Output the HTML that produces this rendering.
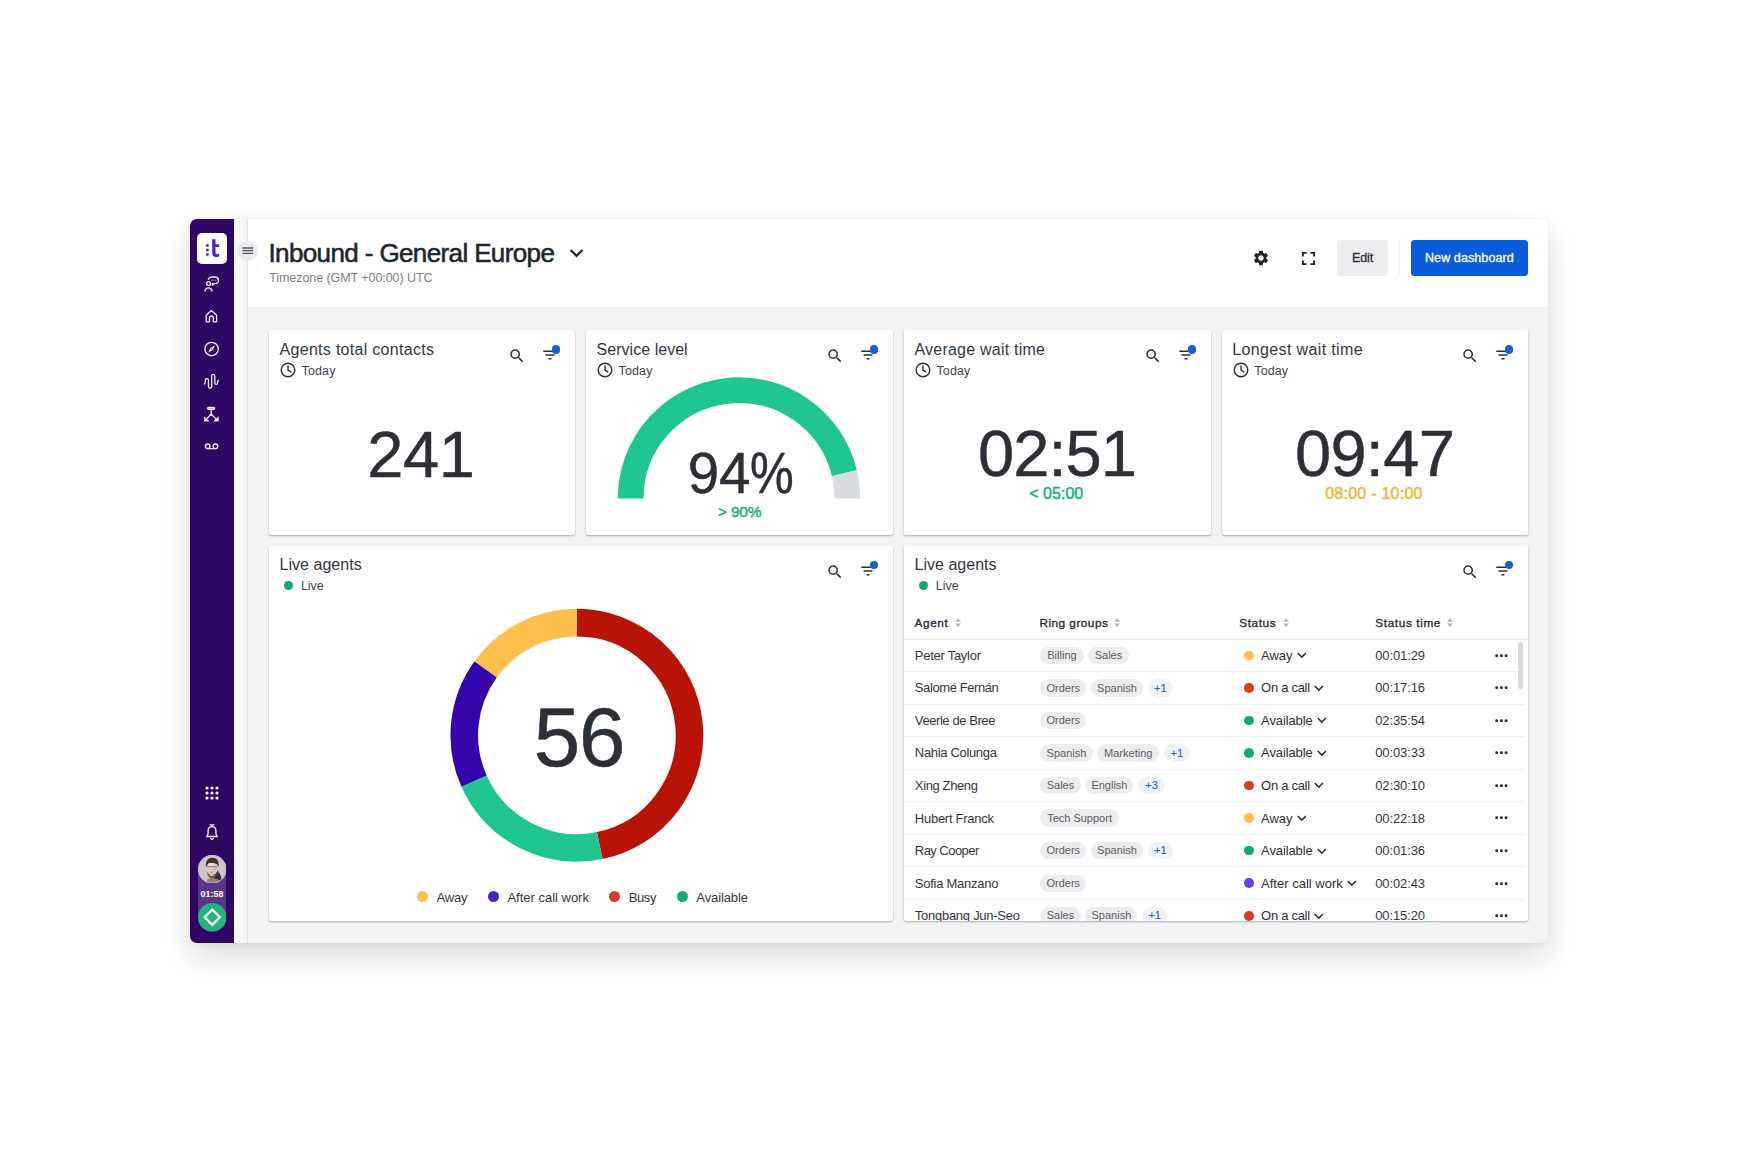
<!DOCTYPE html>
<html lang="en">
<head>
<meta charset="utf-8">
<title>Inbound - General Europe</title>
<style>
*{box-sizing:border-box;margin:0;padding:0}
html,body{width:1740px;height:1160px;background:#fff;overflow:hidden}
body{font-family:"Liberation Sans",sans-serif;color:#33383d;position:relative}
.abs{position:absolute}
#app{position:absolute;left:190px;top:219px;width:1358.4px;height:723.8px;border-radius:7px;background:#f2f3f4;box-shadow:0 14px 30px rgba(20,20,30,.15),0 1px 6px rgba(20,20,30,.05)}
#side{position:absolute;left:0;top:0;width:44px;height:723.8px;background:#2e0664;border-radius:7px 0 0 7px}
#strip{position:absolute;left:44px;top:0;width:14px;height:723.8px;background:linear-gradient(90deg,#fbfbfc,#f4f6f5);border-right:1px solid #e3e5e6}
#head{position:absolute;left:58px;top:0;width:1300.4px;height:88.2px;background:#fff;border-radius:0 7px 0 0}
#main{position:absolute;left:58px;top:88.2px;width:1300.4px;height:635.6px;background:#f2f3f4;border-radius:0 0 7px 0}
.t{position:absolute;white-space:nowrap;line-height:1}
.card{position:absolute;background:#fff;border-radius:2px;box-shadow:0 1px 2px rgba(0,0,0,.28),0 0 1px rgba(0,0,0,.12)}
</style>
</head>
<body>
<div id="app">
  <div id="side"></div>
  <div id="strip"></div>
  <div id="head"></div>
  <div id="main"></div>
</div>

<!-- sidebar -->
<div class="abs" style="left:197px;top:233px;width:30px;height:31px;background:#fff;border-radius:5px"></div>
<svg class="abs" style="left:197px;top:233px" width="30" height="31" viewBox="0 0 30 31">
  <g fill="#4b1fc2">
    <rect x="9.1" y="11.2" width="2.6" height="2.6" rx=".6"/>
    <rect x="9.1" y="15.7" width="2.6" height="2.6" rx=".6"/>
    <rect x="9.1" y="20.2" width="2.6" height="2.6" rx=".6"/>
    <path d="M15.2 6.2h3.3v5h3.6v2.7h-3.6v5.6c0 1.2.6 1.7 1.7 1.7.7 0 1.3-.1 1.9-.4v2.6c-.8.4-1.700.6-2.800.6-2.700 0-4.100-1.400-4.100-4.100z"/>
  </g>
</svg>
<!-- engage icon -->
<svg class="abs" style="left:203px;top:275px" width="18" height="18" viewBox="0 0 18 18" fill="none" stroke="#f3ecff" stroke-width="1.350" stroke-linecap="round" stroke-linejoin="round">
  <circle cx="5.600" cy="8.500" r="1.900"/>
  <path d="M2 16c.3-2 1.600-3.200 3.500-3.200s3.200 1.200 3.500 3.200"/>
  <path d="M5.300 4.200C5.900 2.800 7.200 2 8.700 2h3.100c2.100 0 3.700 1.400 3.700 3.300s-1.600 3.300-3.700 3.300h-.600l-1.900 1.700v-2"/>
  <path d="M9.200 5.200h.01M11 5.200h.01M12.800 5.200h.01" stroke-width="1"/>
</svg>
<!-- home -->
<svg class="abs" style="left:203px;top:307px" width="18" height="18" viewBox="0 0 18 18" fill="none" stroke="#f3ecff" stroke-width="1.350" stroke-linejoin="round" stroke-linecap="round">
  <path d="M3.200 8.300L8.400 3.600l5.200 4.700v6.500h-3.300v-3.900c0-1.100-.800-1.900-1.900-1.900s-1.900.800-1.900 1.900v3.900H3.200z"/>
</svg>
<!-- compass -->
<svg class="abs" style="left:203px;top:339.500px" width="18" height="18" viewBox="0 0 18 18" fill="none" stroke="#f3ecff" stroke-width="1.350">
  <circle cx="8.600" cy="9" r="6.700"/>
  <path d="M11.900 5.300L9.800 10.100 5.300 12.700 7.400 7.900z" fill="#f3ecff" stroke="none"/>
  <circle cx="8.600" cy="9" r=".6" fill="#2e0664" stroke="none"/>
</svg>
<!-- wave -->
<svg class="abs" style="left:203px;top:372px" width="18" height="18" viewBox="0 0 18 18" fill="none" stroke="#f3ecff" stroke-width="1.350" stroke-linecap="round" stroke-linejoin="round">
  <path d="M1.400 12c.700-.400.900-1.200.900-2.500V8.200a1.600 1.600 0 0 1 3.200 0v6.300a1.600 1.600 0 0 0 3.200 0V3.900a1.550 1.550 0 0 1 3.100 0v7.100a1.350 1.350 0 0 0 2.700 0c0-1.100.200-1.900.800-2.400"/>
</svg>
<!-- routing -->
<svg class="abs" style="left:203px;top:404.500px" width="18" height="18" viewBox="0 0 18 18" fill="none" stroke="#f3ecff" stroke-width="1.350" stroke-linecap="round" stroke-linejoin="round">
  <rect x="4.700" y="2.500" width="6.900" height="1.700" rx=".85"/>
  <path d="M8.200 4.800v4.200M8.200 9L3 14.600M8.200 9l5.400 5.600"/>
  <path d="M1.500 12.300v3.800h4zM15.300 12.300v3.800h-4z" fill="#f3ecff" stroke-width=".7"/>
</svg>
<!-- voicemail -->
<svg class="abs" style="left:203px;top:437.800px" width="18" height="18" viewBox="0 0 18 18" fill="none" stroke="#f3ecff" stroke-width="1.350" stroke-linecap="round">
  <circle cx="4.700" cy="8.300" r="2.300"/>
  <circle cx="12.500" cy="8.300" r="2.300"/>
  <path d="M4.700 10.600h7.800"/>
</svg>
<!-- grid -->
<svg class="abs" style="left:203px;top:784px" width="18" height="18" viewBox="0 0 18 18" fill="#fff">
  <circle cx="4" cy="4" r="1.600"/><circle cx="9" cy="4" r="1.600"/><circle cx="14" cy="4" r="1.600"/>
  <circle cx="4" cy="9" r="1.600"/><circle cx="9" cy="9" r="1.600"/><circle cx="14" cy="9" r="1.600"/>
  <circle cx="4" cy="14" r="1.600"/><circle cx="9" cy="14" r="1.600"/><circle cx="14" cy="14" r="1.600"/>
</svg>
<!-- bell -->
<svg class="abs" style="left:203px;top:822px" width="18" height="20" viewBox="0 0 18 20" fill="none" stroke="#f3ecff" stroke-width="1.350" stroke-linecap="round" stroke-linejoin="round">
  <path d="M7 2.800h4M9 2.800v1.700"/>
  <path d="M3.700 14.500c.900-.900 1.400-2 1.400-3.600V8.700c0-2.400 1.600-4.100 3.900-4.100s3.900 1.700 3.900 4.100v2.200c0 1.600.500 2.700 1.400 3.600z"/>
  <path d="M7.600 16.300c.300.600.800.900 1.400.9s1.100-.3 1.400-.9"/>
</svg>
<!-- avatar pill -->
<div class="abs" style="left:197.700px;top:854.800px;width:28.500px;height:76.800px;border-radius:14.300px;background:#5b348c"></div>
<svg class="abs" style="left:197.700px;top:854.800px" width="28.500" height="28.500" viewBox="0 0 28.500 28.500">
  <defs><clipPath id="av"><circle cx="14.250" cy="14.250" r="14.250"/></clipPath>
  <filter id="avb" x="-10%" y="-10%" width="120%" height="120%"><feGaussianBlur stdDeviation=".45"/></filter></defs>
  <g clip-path="url(#av)">
    <rect width="28.500" height="28.500" fill="#cbc7c8"/>
    <g filter="url(#avb)">
      <path d="M17.500 14.500c3 1.500 5.500 5 6 10.500l-8 1.500z" fill="#342d31"/>
      <path d="M9.500 24.300c2-1.200 7.500-1.200 10.500 0l1 5h-12.500z" fill="#8c8468"/>
      <ellipse cx="14" cy="14.600" rx="5.300" ry="7.800" fill="#dccbc3"/>
      <path d="M8.900 16.500c.4 4.300 2.400 7 5.100 7s4.700-2.700 5.200-7c-1.300 2.300-2.900 3.200-5.200 3.200s-3.900-.9-5.100-3.200z" fill="#6e5b55"/>
      <ellipse cx="13.600" cy="20.300" rx="1.900" ry=".8" fill="#e9dfdb"/>
      <path d="M7.900 12.200C7.300 6 10 2.700 14.300 2.700s7 2.900 6.300 9.500c-.9-3.100-2.700-4.300-6.300-4.300s-5.200 1.200-6.400 4.300z" fill="#3a322f"/>
      <ellipse cx="13.300" cy="9.300" rx="3.600" ry="1.400" fill="#e6e2dc"/>
      <path d="M8.700 11.800h10.800" stroke="#5c4f4f" stroke-width=".7"/>
      <ellipse cx="16.700" cy="14.200" rx="1.500" ry="1" fill="#e7a3a8"/>
      <ellipse cx="13.800" cy="17.200" rx=".6" ry=".6" fill="#3a2024"/>
    </g>
  </g>
  <circle cx="14.250" cy="14.250" r="13.850" fill="none" stroke="#c3aee0" stroke-width=".8"/>
</svg>
<div class="t" style="left:197.700px;top:890.400px;width:28.500px;text-align:center;font-size:8.800px;font-weight:bold;color:#fff;letter-spacing:.1px">01:58</div>
<svg class="abs" style="left:197.700px;top:903.200px" width="28.500" height="28.500" viewBox="0 0 28.500 28.500">
  <circle cx="14.250" cy="14.250" r="14.250" fill="#21b57e"/>
  <path d="M14.250 6.600l7.650 7.650-7.650 7.650L6.600 14.250z" fill="none" stroke="#fff" stroke-width="2.200" stroke-linejoin="miter"/>
</svg>
<!-- hamburger -->
<div class="abs" style="left:237px;top:240.500px;width:20.500px;height:20.500px;border-radius:50%;background:#e9ebec"></div>
<svg class="abs" style="left:241.500px;top:246px" width="12" height="10" viewBox="0 0 12 10" stroke="#4a4f55" stroke-width="1.300"><path d="M.5 2h10.600M.5 4.700h10.600M.5 7.400h10.600"/></svg>

<!-- header -->
<div class="t" id="title" style="left:268.5px;top:239.8px;font-size:26px;color:#20252b;letter-spacing:-.62px;-webkit-text-stroke:.55px #20252b">Inbound - General Europe</div>
<svg class="abs" style="left:568px;top:246px" width="17" height="14" viewBox="0 0 17 14" fill="none" stroke="#20252b" stroke-width="2.200" stroke-linecap="butt" stroke-linejoin="miter"><path d="M2.600 4l5.900 5.900L14.400 4"/></svg>
<div class="t" id="tz" style="left:269.2px;top:272px;font-size:12.5px;color:#7b8085;letter-spacing:-.07px">Timezone (GMT +00:00) UTC</div>
<!-- gear -->
<svg class="abs" style="left:1252.300px;top:249px" width="18" height="18" viewBox="0 0 24 24" fill="#20252b"><path d="M19.140 12.940c.04-.3.060-.61.060-.94 0-.32-.02-.64-.07-.94l2.030-1.580c.18-.14.230-.41.120-.61l-1.920-3.320c-.12-.22-.37-.29-.59-.22l-2.390.96c-.5-.38-1.030-.7-1.620-.94l-.36-2.540c-.04-.24-.24-.41-.48-.41h-3.840c-.24 0-.43.170-.47.410l-.36 2.540c-.59.240-1.130.57-1.620.94l-2.390-.96c-.22-.08-.47 0-.59.220L2.740 8.870c-.12.210-.08.470.12.610l2.030 1.580c-.05.300-.09.630-.09.940s.02.640.07.940l-2.030 1.580c-.18.140-.23.410-.12.610l1.920 3.320c.12.220.37.290.59.220l2.390-.96c.5.380 1.030.7 1.620.94l.36 2.540c.05.240.24.410.48.410h3.840c.24 0 .44-.17.470-.41l.36-2.540c.59-.24 1.130-.56 1.620-.94l2.390.96c.22.080.47 0 .59-.22l1.920-3.320c.12-.22.070-.47-.12-.61l-2.010-1.580zM12 15.600c-1.980 0-3.600-1.620-3.600-3.600s1.620-3.600 3.600-3.600 3.600 1.620 3.600 3.600-1.620 3.600-3.600 3.600z"/></svg>
<!-- fullscreen -->
<svg class="abs" style="left:1301px;top:251px" width="15" height="15" viewBox="0 0 15 15" fill="none" stroke="#20252b" stroke-width="1.900"><path d="M1.900 5.600V1.900h3.700M9.400 1.900h3.700v3.700M13.100 9.400v3.700H9.400M5.600 13.100H1.900V9.400"/></svg>
<!-- edit -->
<div class="abs" style="left:1337.200px;top:240.200px;width:50.600px;height:35.600px;border-radius:3.500px;background:#ebedee"></div>
<div class="t" id="edit" style="left:1337.2px;top:251.5px;width:50.6px;text-align:center;font-size:12.5px;color:#2b3036;letter-spacing:-.1px;-webkit-text-stroke:.3px #2b3036">Edit</div>
<div class="abs" style="left:1399px;top:240px;width:1px;height:36px;background:#f1f2f3"></div>
<div class="abs" style="left:1410.600px;top:240.200px;width:117.600px;height:35.600px;border-radius:3.500px;background:#0b5cdb"></div>
<div class="t" id="newd" style="left:1410.6px;top:251.5px;width:117.6px;text-align:center;font-size:12.5px;color:#fff;letter-spacing:.1px;-webkit-text-stroke:.3px #fff">New dashboard</div>
<div class="card" style="left:268.9px;top:330.2px;width:306.4px;height:204.5px"></div>
<div class="t" style="left:279.6px;top:341.76px;font-size:16px;color:#33383d;letter-spacing:0.29px;">Agents total contacts</div>
<svg class="abs" style="left:279.4px;top:361.1px" width="18" height="18" viewBox="0 0 18 18" fill="none" stroke="#2b3036" stroke-width="1.4" stroke-linecap="round" stroke-linejoin="round"><circle cx="9" cy="9" r="6.8"/><path d="M9 5v4.200l2.800 1.700"/></svg>
<div class="t" style="left:301.57px;top:364.92px;font-size:12.5px;color:#3f454b;letter-spacing:0.12px;">Today</div>
<svg class="abs" style="left:508.1px;top:346.9px" width="18" height="18" viewBox="0 0 24 24" fill="#2b3036"><path d="M15.5 14h-.79l-.28-.27A6.47 6.47 0 0 0 16 9.5 6.5 6.5 0 1 0 9.5 16c1.61 0 3.09-.59 4.23-1.57l.27.28v.79l5 4.99L20.49 19l-4.99-5zm-6 0C7.01 14 5 11.99 5 9.500S7.010 5 9.500 5 14 7.010 14 9.500 11.990 14 9.500 14z"/></svg>
<svg class="abs" style="left:541.1px;top:346.1px" width="18" height="18" viewBox="0 0 24 24" fill="#2b3036"><path d="M10 18h4v-2h-4v2zM3 6v2h18V6H3zm3 7h12v-2H6v2z"/></svg>
<div class="abs" style="left:552.1px;top:345.4px;width:8.2px;height:8.2px;border-radius:50%;background:#1460d8"></div>
<div class="card" style="left:585.9px;top:330.2px;width:307.3px;height:204.5px"></div>
<div class="t" style="left:596.6px;top:341.76px;font-size:16px;color:#33383d;letter-spacing:0.03px;">Service level</div>
<svg class="abs" style="left:596.4px;top:361.1px" width="18" height="18" viewBox="0 0 18 18" fill="none" stroke="#2b3036" stroke-width="1.4" stroke-linecap="round" stroke-linejoin="round"><circle cx="9" cy="9" r="6.8"/><path d="M9 5v4.200l2.800 1.700"/></svg>
<div class="t" style="left:618.57px;top:364.92px;font-size:12.5px;color:#3f454b;letter-spacing:0.12px;">Today</div>
<svg class="abs" style="left:826px;top:346.9px" width="18" height="18" viewBox="0 0 24 24" fill="#2b3036"><path d="M15.5 14h-.79l-.28-.27A6.47 6.47 0 0 0 16 9.5 6.5 6.5 0 1 0 9.5 16c1.61 0 3.09-.59 4.23-1.57l.27.28v.79l5 4.99L20.49 19l-4.99-5zm-6 0C7.01 14 5 11.99 5 9.500S7.010 5 9.500 5 14 7.010 14 9.500 11.990 14 9.500 14z"/></svg>
<svg class="abs" style="left:859px;top:346.1px" width="18" height="18" viewBox="0 0 24 24" fill="#2b3036"><path d="M10 18h4v-2h-4v2zM3 6v2h18V6H3zm3 7h12v-2H6v2z"/></svg>
<div class="abs" style="left:870px;top:345.4px;width:8.2px;height:8.2px;border-radius:50%;background:#1460d8"></div>
<div class="card" style="left:903.8px;top:330.2px;width:307px;height:204.5px"></div>
<div class="t" style="left:914.5px;top:341.76px;font-size:16px;color:#33383d;letter-spacing:0.22px;">Average wait time</div>
<svg class="abs" style="left:914.3px;top:361.1px" width="18" height="18" viewBox="0 0 18 18" fill="none" stroke="#2b3036" stroke-width="1.4" stroke-linecap="round" stroke-linejoin="round"><circle cx="9" cy="9" r="6.8"/><path d="M9 5v4.200l2.800 1.700"/></svg>
<div class="t" style="left:936.47px;top:364.92px;font-size:12.5px;color:#3f454b;letter-spacing:0.12px;">Today</div>
<svg class="abs" style="left:1143.6px;top:346.9px" width="18" height="18" viewBox="0 0 24 24" fill="#2b3036"><path d="M15.5 14h-.79l-.28-.27A6.47 6.47 0 0 0 16 9.5 6.5 6.5 0 1 0 9.5 16c1.61 0 3.09-.59 4.23-1.57l.27.28v.79l5 4.99L20.49 19l-4.99-5zm-6 0C7.01 14 5 11.99 5 9.500S7.010 5 9.500 5 14 7.010 14 9.500 11.990 14 9.500 14z"/></svg>
<svg class="abs" style="left:1176.6px;top:346.1px" width="18" height="18" viewBox="0 0 24 24" fill="#2b3036"><path d="M10 18h4v-2h-4v2zM3 6v2h18V6H3zm3 7h12v-2H6v2z"/></svg>
<div class="abs" style="left:1187.6px;top:345.4px;width:8.2px;height:8.2px;border-radius:50%;background:#1460d8"></div>
<div class="card" style="left:1221.6px;top:330.2px;width:306.6px;height:204.5px"></div>
<div class="t" style="left:1232.3px;top:341.76px;font-size:16px;color:#33383d;letter-spacing:0.36px;">Longest wait time</div>
<svg class="abs" style="left:1232.1px;top:361.1px" width="18" height="18" viewBox="0 0 18 18" fill="none" stroke="#2b3036" stroke-width="1.4" stroke-linecap="round" stroke-linejoin="round"><circle cx="9" cy="9" r="6.8"/><path d="M9 5v4.200l2.800 1.700"/></svg>
<div class="t" style="left:1254.27px;top:364.92px;font-size:12.5px;color:#3f454b;letter-spacing:0.12px;">Today</div>
<svg class="abs" style="left:1461px;top:346.9px" width="18" height="18" viewBox="0 0 24 24" fill="#2b3036"><path d="M15.5 14h-.79l-.28-.27A6.47 6.47 0 0 0 16 9.5 6.5 6.5 0 1 0 9.5 16c1.61 0 3.09-.59 4.23-1.57l.27.28v.79l5 4.99L20.49 19l-4.99-5zm-6 0C7.01 14 5 11.99 5 9.500S7.010 5 9.500 5 14 7.010 14 9.500 11.990 14 9.500 14z"/></svg>
<svg class="abs" style="left:1494px;top:346.1px" width="18" height="18" viewBox="0 0 24 24" fill="#2b3036"><path d="M10 18h4v-2h-4v2zM3 6v2h18V6H3zm3 7h12v-2H6v2z"/></svg>
<div class="abs" style="left:1505px;top:345.4px;width:8.2px;height:8.2px;border-radius:50%;background:#1460d8"></div>
<div class="t" style="left:367.35px;top:421.58px;font-size:65px;color:#2b3036;letter-spacing:-0.4px;-webkit-text-stroke:.45px #2b3036;">241</div>
<div class="t" style="left:977.95px;top:421.18px;font-size:65px;color:#2b3036;letter-spacing:-0.9px;-webkit-text-stroke:.45px #2b3036;">02:51</div>
<div class="t" style="left:1294.95px;top:421.18px;font-size:65px;color:#2b3036;letter-spacing:-0.7px;-webkit-text-stroke:.45px #2b3036;">09:47</div>
<div class="t" style="left:1029.3px;top:486.06px;font-size:16px;color:#16b081;-webkit-text-stroke:0.48px #16b081;letter-spacing:0.01px;">&lt; 05:00</div>
<div class="t" style="left:1325.2px;top:486.06px;font-size:16px;color:#f2b53a;-webkit-text-stroke:0.48px #f2b53a;letter-spacing:0.25px;">08:00 - 10:00</div>
<svg class="abs" style="left:600px;top:365px" width="280" height="134" viewBox="600 365 280 134" fill="none"><path d="M844.36 473.02A108.35 108.35 0 0 1 847.4 498.5" stroke="#d9dcde" stroke-width="25.7"/><path d="M630.7 498.5A108.35 108.35 0 0 1 844.36 473.02" stroke="#20c592" stroke-width="25.7"/>
</svg>
<div class="t" style="left:687.77px;top:445.97px;font-size:56.5px;color:#2b3036;letter-spacing:-0.3px;-webkit-text-stroke:.45px #2b3036;">94<span style="display:inline-block;transform:scaleX(.87);transform-origin:0 50%">%</span></div>
<div class="t" style="left:718.02px;top:503.68px;font-size:15.5px;color:#16b081;-webkit-text-stroke:0.46px #16b081;letter-spacing:-0.21px;">&gt; 90%</div>
<div class="card" style="left:268.9px;top:545.9px;width:624.3px;height:375.4px"></div>
<div class="t" style="left:279.6px;top:557.46px;font-size:16px;color:#33383d;letter-spacing:0.02px;">Live agents</div>
<div class="abs" style="left:283.6px;top:581.3px;width:9.2px;height:9.2px;border-radius:50%;background:#12a873"></div>
<div class="t" style="left:300.88px;top:580.02px;font-size:12.5px;color:#3f454b;">Live</div>
<svg class="abs" style="left:826px;top:562.6px" width="18" height="18" viewBox="0 0 24 24" fill="#2b3036"><path d="M15.5 14h-.79l-.28-.27A6.47 6.47 0 0 0 16 9.5 6.5 6.5 0 1 0 9.5 16c1.61 0 3.09-.59 4.23-1.57l.27.28v.79l5 4.99L20.49 19l-4.99-5zm-6 0C7.01 14 5 11.99 5 9.500S7.010 5 9.500 5 14 7.010 14 9.500 11.990 14 9.500 14z"/></svg>
<svg class="abs" style="left:859px;top:561.8px" width="18" height="18" viewBox="0 0 24 24" fill="#2b3036"><path d="M10 18h4v-2h-4v2zM3 6v2h18V6H3zm3 7h12v-2H6v2z"/></svg>
<div class="abs" style="left:870px;top:561.1px;width:8.2px;height:8.2px;border-radius:50%;background:#1460d8"></div>
<svg class="abs" style="left:430px;top:590px" width="300" height="290" viewBox="430 590 300 290" fill="none">
<path d="M576.9 622.65A112.6 112.6 0 0 1 599.73 845.51" stroke="#b91305" stroke-width="27.6"/>
<path d="M599.73 845.51A112.6 112.6 0 0 1 474.03 781.05" stroke="#20c592" stroke-width="27.6"/>
<path d="M474.03 781.05A112.6 112.6 0 0 1 485.69 669.22" stroke="#3404ab" stroke-width="27.6"/>
<path d="M485.69 669.22A112.6 112.6 0 0 1 576.9 622.65" stroke="#fdc04c" stroke-width="27.6"/>
</svg>
<div class="t" style="left:533.83px;top:696.32px;font-size:83.5px;color:#2b3036;letter-spacing:-1.27px;-webkit-text-stroke:.55px #2b3036;">56</div>
<div class="abs" style="left:417px;top:891.1px;width:11px;height:11px;border-radius:50%;background:#fdc04c"></div>
<div class="t" style="left:436.45px;top:890.6px;font-size:13px;color:#33383d;letter-spacing:-0.19px;">Away</div>
<div class="abs" style="left:487.8px;top:891.1px;width:11px;height:11px;border-radius:50%;background:#4a21c8"></div>
<div class="t" style="left:507.45px;top:890.6px;font-size:13px;color:#33383d;letter-spacing:-0.01px;">After call work</div>
<div class="abs" style="left:609px;top:891.1px;width:11px;height:11px;border-radius:50%;background:#d63c2c"></div>
<div class="t" style="left:628.65px;top:890.6px;font-size:13px;color:#33383d;letter-spacing:-0.35px;">Busy</div>
<div class="abs" style="left:676.9px;top:891.1px;width:11px;height:11px;border-radius:50%;background:#1ba672"></div>
<div class="t" style="left:696.35px;top:890.6px;font-size:13px;color:#33383d;letter-spacing:-0.11px;">Available</div>
<div class="card" style="left:903.8px;top:545.9px;width:624.4px;height:375.4px"></div>
<div class="t" style="left:914.5px;top:557.46px;font-size:16px;color:#33383d;letter-spacing:0.02px;">Live agents</div>
<div class="abs" style="left:918.5px;top:581.3px;width:9.2px;height:9.2px;border-radius:50%;background:#12a873"></div>
<div class="t" style="left:935.77px;top:580.02px;font-size:12.5px;color:#3f454b;">Live</div>
<svg class="abs" style="left:1461px;top:562.6px" width="18" height="18" viewBox="0 0 24 24" fill="#2b3036"><path d="M15.5 14h-.79l-.28-.27A6.47 6.47 0 0 0 16 9.5 6.5 6.5 0 1 0 9.5 16c1.61 0 3.09-.59 4.23-1.57l.27.28v.79l5 4.99L20.49 19l-4.99-5zm-6 0C7.01 14 5 11.99 5 9.500S7.010 5 9.500 5 14 7.010 14 9.500 11.990 14 9.500 14z"/></svg>
<svg class="abs" style="left:1494px;top:561.8px" width="18" height="18" viewBox="0 0 24 24" fill="#2b3036"><path d="M10 18h4v-2h-4v2zM3 6v2h18V6H3zm3 7h12v-2H6v2z"/></svg>
<div class="abs" style="left:1505px;top:561.1px;width:8.2px;height:8.2px;border-radius:50%;background:#1460d8"></div>
<div class="abs" style="left:903.8px;top:600px;width:624px;height:321.3px;overflow:hidden;border-radius:0 0 3px 3px" id="tbl">
<div class="t" style="left:10.81px;top:17.81px;font-size:11.8px;color:#2b3036;-webkit-text-stroke:0.35px #2b3036;letter-spacing:0.59px;">Agent</div>
<svg class="abs" style="left:51.5px;top:18.3px" width="6" height="9.2" viewBox="0 0 6 9.2" fill="#b7bbbf"><path d="M3 0l3 3.700H0zM3 9.200L0 5.500h6z"/></svg>
<div class="t" style="left:135.61px;top:17.81px;font-size:11.8px;color:#2b3036;-webkit-text-stroke:0.35px #2b3036;letter-spacing:0.48px;">Ring groups</div>
<svg class="abs" style="left:209.9px;top:18.3px" width="6" height="9.2" viewBox="0 0 6 9.2" fill="#b7bbbf"><path d="M3 0l3 3.700H0zM3 9.200L0 5.500h6z"/></svg>
<div class="t" style="left:335.51px;top:17.81px;font-size:11.8px;color:#2b3036;-webkit-text-stroke:0.35px #2b3036;letter-spacing:0.57px;">Status</div>
<svg class="abs" style="left:378.8px;top:18.3px" width="6" height="9.2" viewBox="0 0 6 9.2" fill="#b7bbbf"><path d="M3 0l3 3.700H0zM3 9.200L0 5.500h6z"/></svg>
<div class="t" style="left:471.51px;top:17.81px;font-size:11.8px;color:#2b3036;-webkit-text-stroke:0.35px #2b3036;letter-spacing:0.61px;">Status time</div>
<svg class="abs" style="left:542.9px;top:18.3px" width="6" height="9.2" viewBox="0 0 6 9.2" fill="#b7bbbf"><path d="M3 0l3 3.700H0zM3 9.200L0 5.500h6z"/></svg>
<div class="abs" style="left:0;top:38.3px;width:624px;height:1.6px;background:#ebedee"></div>
<div class="t" style="left:11.05px;top:48.8px;font-size:13px;color:#33383d;letter-spacing:-0.27px;">Peter Taylor</div>
<div class="abs" style="left:136.5px;top:46.65px;width:43.3px;height:17.5px;border-radius:9px;background:#ebedee"></div>
<div class="t" style="left:136.5px;top:49.99px;font-size:11px;color:#585d62;width:43.3px;text-align:center;">Billing</div>
<div class="abs" style="left:184.5px;top:46.65px;width:40.4px;height:17.5px;border-radius:9px;background:#ebedee"></div>
<div class="t" style="left:184.5px;top:49.99px;font-size:11px;color:#585d62;width:40.4px;text-align:center;">Sales</div>
<div class="abs" style="left:340.2px;top:50.6px;width:9.6px;height:9.6px;border-radius:50%;background:#fdc04c"></div>
<div class="t" style="left:357.25px;top:48.8px;font-size:13px;color:#2b3036;letter-spacing:-0.07px;">Away</div>
<svg class="abs" style="left:393.1px;top:52.2px" width="9.600" height="7" viewBox="0 0 9.6 7" fill="none" stroke="#2b3036" stroke-width="1.500"><path d="M.7 1l4.100 4.100L8.900 1"/></svg>
<div class="t" style="left:471.45px;top:48.8px;font-size:13px;color:#33383d;letter-spacing:-0.11px;">00:01:29</div>
<svg class="abs" style="left:591px;top:53.7px" width="13" height="3.400" viewBox="0 0 13 3.4" fill="#2b3036"><circle cx="1.700" cy="1.700" r="1.500"/><circle cx="6.400" cy="1.700" r="1.500"/><circle cx="11.100" cy="1.700" r="1.500"/></svg>
<div class="abs" style="left:0;top:71.15px;width:621px;height:1px;background:#eff1f2"></div>
<div class="t" style="left:11.05px;top:81.35px;font-size:13px;color:#33383d;letter-spacing:-0.41px;">Salomé Fernán</div>
<div class="abs" style="left:136.5px;top:79.2px;width:46px;height:17.5px;border-radius:9px;background:#ebedee"></div>
<div class="t" style="left:136.5px;top:82.54px;font-size:11px;color:#585d62;width:46px;text-align:center;">Orders</div>
<div class="abs" style="left:187.2px;top:79.2px;width:52px;height:17.5px;border-radius:9px;background:#ebedee"></div>
<div class="t" style="left:187.2px;top:82.54px;font-size:11px;color:#585d62;width:52px;text-align:center;">Spanish</div>
<div class="abs" style="left:243.9px;top:79.2px;width:25.2px;height:17.5px;border-radius:9px;background:#f0f2f4"></div>
<div class="t" style="left:243.9px;top:82.54px;font-size:11px;color:#2a62d6;width:25.2px;text-align:center;-webkit-text-stroke:.15px #2a62d6;">+1</div>
<div class="abs" style="left:340.2px;top:83.15px;width:9.6px;height:9.6px;border-radius:50%;background:#d63c2c"></div>
<div class="t" style="left:357.25px;top:81.35px;font-size:13px;color:#2b3036;letter-spacing:-0.28px;">On a call</div>
<svg class="abs" style="left:410.6px;top:84.75px" width="9.600" height="7" viewBox="0 0 9.6 7" fill="none" stroke="#2b3036" stroke-width="1.500"><path d="M.7 1l4.100 4.100L8.900 1"/></svg>
<div class="t" style="left:471.45px;top:81.35px;font-size:13px;color:#33383d;letter-spacing:-0.11px;">00:17:16</div>
<svg class="abs" style="left:591px;top:86.25px" width="13" height="3.400" viewBox="0 0 13 3.4" fill="#2b3036"><circle cx="1.700" cy="1.700" r="1.500"/><circle cx="6.400" cy="1.700" r="1.500"/><circle cx="11.100" cy="1.700" r="1.500"/></svg>
<div class="abs" style="left:0;top:103.7px;width:621px;height:1px;background:#eff1f2"></div>
<div class="t" style="left:11.05px;top:113.9px;font-size:13px;color:#33383d;letter-spacing:-0.42px;">Veerle de Bree</div>
<div class="abs" style="left:136.5px;top:111.75px;width:46px;height:17.5px;border-radius:9px;background:#ebedee"></div>
<div class="t" style="left:136.5px;top:115.09px;font-size:11px;color:#585d62;width:46px;text-align:center;">Orders</div>
<div class="abs" style="left:340.2px;top:115.7px;width:9.6px;height:9.6px;border-radius:50%;background:#12a873"></div>
<div class="t" style="left:357.25px;top:113.9px;font-size:13px;color:#2b3036;letter-spacing:-0.1px;">Available</div>
<svg class="abs" style="left:413.4px;top:117.3px" width="9.600" height="7" viewBox="0 0 9.6 7" fill="none" stroke="#2b3036" stroke-width="1.500"><path d="M.7 1l4.100 4.100L8.900 1"/></svg>
<div class="t" style="left:471.45px;top:113.9px;font-size:13px;color:#33383d;letter-spacing:-0.11px;">02:35:54</div>
<svg class="abs" style="left:591px;top:118.8px" width="13" height="3.400" viewBox="0 0 13 3.4" fill="#2b3036"><circle cx="1.700" cy="1.700" r="1.500"/><circle cx="6.400" cy="1.700" r="1.500"/><circle cx="11.100" cy="1.700" r="1.500"/></svg>
<div class="abs" style="left:0;top:136.25px;width:621px;height:1px;background:#eff1f2"></div>
<div class="t" style="left:11.05px;top:146.45px;font-size:13px;color:#33383d;letter-spacing:-0.33px;">Nahia Colunga</div>
<div class="abs" style="left:136.5px;top:144.3px;width:52.3px;height:17.5px;border-radius:9px;background:#ebedee"></div>
<div class="t" style="left:136.5px;top:147.64px;font-size:11px;color:#585d62;width:52.3px;text-align:center;">Spanish</div>
<div class="abs" style="left:193.5px;top:144.3px;width:61.9px;height:17.5px;border-radius:9px;background:#ebedee"></div>
<div class="t" style="left:193.5px;top:147.64px;font-size:11px;color:#585d62;width:61.9px;text-align:center;">Marketing</div>
<div class="abs" style="left:260.1px;top:144.3px;width:25.8px;height:17.5px;border-radius:9px;background:#f0f2f4"></div>
<div class="t" style="left:260.1px;top:147.64px;font-size:11px;color:#2a62d6;width:25.8px;text-align:center;-webkit-text-stroke:.15px #2a62d6;">+1</div>
<div class="abs" style="left:340.2px;top:148.25px;width:9.6px;height:9.6px;border-radius:50%;background:#12a873"></div>
<div class="t" style="left:357.25px;top:146.45px;font-size:13px;color:#2b3036;letter-spacing:-0.1px;">Available</div>
<svg class="abs" style="left:413.4px;top:149.85px" width="9.600" height="7" viewBox="0 0 9.6 7" fill="none" stroke="#2b3036" stroke-width="1.500"><path d="M.7 1l4.100 4.100L8.900 1"/></svg>
<div class="t" style="left:471.45px;top:146.45px;font-size:13px;color:#33383d;letter-spacing:-0.11px;">00:03:33</div>
<svg class="abs" style="left:591px;top:151.35px" width="13" height="3.400" viewBox="0 0 13 3.4" fill="#2b3036"><circle cx="1.700" cy="1.700" r="1.500"/><circle cx="6.400" cy="1.700" r="1.500"/><circle cx="11.100" cy="1.700" r="1.500"/></svg>
<div class="abs" style="left:0;top:168.8px;width:621px;height:1px;background:#eff1f2"></div>
<div class="t" style="left:11.05px;top:179px;font-size:13px;color:#33383d;letter-spacing:-0.38px;">Xing Zheng</div>
<div class="abs" style="left:136.5px;top:176.85px;width:40.4px;height:17.5px;border-radius:9px;background:#ebedee"></div>
<div class="t" style="left:136.5px;top:180.19px;font-size:11px;color:#585d62;width:40.4px;text-align:center;">Sales</div>
<div class="abs" style="left:181.6px;top:176.85px;width:48.1px;height:17.5px;border-radius:9px;background:#ebedee"></div>
<div class="t" style="left:181.6px;top:180.19px;font-size:11px;color:#585d62;width:48.1px;text-align:center;">English</div>
<div class="abs" style="left:234.4px;top:176.85px;width:26.6px;height:17.5px;border-radius:9px;background:#f0f2f4"></div>
<div class="t" style="left:234.4px;top:180.19px;font-size:11px;color:#2a62d6;width:26.6px;text-align:center;-webkit-text-stroke:.15px #2a62d6;">+3</div>
<div class="abs" style="left:340.2px;top:180.8px;width:9.6px;height:9.6px;border-radius:50%;background:#d63c2c"></div>
<div class="t" style="left:357.25px;top:179px;font-size:13px;color:#2b3036;letter-spacing:-0.28px;">On a call</div>
<svg class="abs" style="left:410.6px;top:182.4px" width="9.600" height="7" viewBox="0 0 9.6 7" fill="none" stroke="#2b3036" stroke-width="1.500"><path d="M.7 1l4.100 4.100L8.900 1"/></svg>
<div class="t" style="left:471.45px;top:179px;font-size:13px;color:#33383d;letter-spacing:-0.11px;">02:30:10</div>
<svg class="abs" style="left:591px;top:183.9px" width="13" height="3.400" viewBox="0 0 13 3.4" fill="#2b3036"><circle cx="1.700" cy="1.700" r="1.500"/><circle cx="6.400" cy="1.700" r="1.500"/><circle cx="11.100" cy="1.700" r="1.500"/></svg>
<div class="abs" style="left:0;top:201.35px;width:621px;height:1px;background:#eff1f2"></div>
<div class="t" style="left:11.05px;top:211.55px;font-size:13px;color:#33383d;letter-spacing:-0.27px;">Hubert Franck</div>
<div class="abs" style="left:136.5px;top:209.4px;width:78.5px;height:17.5px;border-radius:9px;background:#ebedee"></div>
<div class="t" style="left:136.5px;top:212.74px;font-size:11px;color:#585d62;width:78.5px;text-align:center;">Tech Support</div>
<div class="abs" style="left:340.2px;top:213.35px;width:9.6px;height:9.6px;border-radius:50%;background:#fdc04c"></div>
<div class="t" style="left:357.25px;top:211.55px;font-size:13px;color:#2b3036;letter-spacing:-0.07px;">Away</div>
<svg class="abs" style="left:393.1px;top:214.95px" width="9.600" height="7" viewBox="0 0 9.6 7" fill="none" stroke="#2b3036" stroke-width="1.500"><path d="M.7 1l4.100 4.100L8.900 1"/></svg>
<div class="t" style="left:471.45px;top:211.55px;font-size:13px;color:#33383d;letter-spacing:-0.11px;">00:22:18</div>
<svg class="abs" style="left:591px;top:216.45px" width="13" height="3.400" viewBox="0 0 13 3.4" fill="#2b3036"><circle cx="1.700" cy="1.700" r="1.500"/><circle cx="6.400" cy="1.700" r="1.500"/><circle cx="11.100" cy="1.700" r="1.500"/></svg>
<div class="abs" style="left:0;top:233.9px;width:621px;height:1px;background:#eff1f2"></div>
<div class="t" style="left:11.05px;top:244.1px;font-size:13px;color:#33383d;letter-spacing:-0.55px;">Ray Cooper</div>
<div class="abs" style="left:136.5px;top:241.95px;width:46px;height:17.5px;border-radius:9px;background:#ebedee"></div>
<div class="t" style="left:136.5px;top:245.29px;font-size:11px;color:#585d62;width:46px;text-align:center;">Orders</div>
<div class="abs" style="left:187.2px;top:241.95px;width:52px;height:17.5px;border-radius:9px;background:#ebedee"></div>
<div class="t" style="left:187.2px;top:245.29px;font-size:11px;color:#585d62;width:52px;text-align:center;">Spanish</div>
<div class="abs" style="left:243.9px;top:241.95px;width:25.2px;height:17.5px;border-radius:9px;background:#f0f2f4"></div>
<div class="t" style="left:243.9px;top:245.29px;font-size:11px;color:#2a62d6;width:25.2px;text-align:center;-webkit-text-stroke:.15px #2a62d6;">+1</div>
<div class="abs" style="left:340.2px;top:245.9px;width:9.6px;height:9.6px;border-radius:50%;background:#12a873"></div>
<div class="t" style="left:357.25px;top:244.1px;font-size:13px;color:#2b3036;letter-spacing:-0.1px;">Available</div>
<svg class="abs" style="left:413.4px;top:247.5px" width="9.600" height="7" viewBox="0 0 9.6 7" fill="none" stroke="#2b3036" stroke-width="1.500"><path d="M.7 1l4.100 4.100L8.900 1"/></svg>
<div class="t" style="left:471.45px;top:244.1px;font-size:13px;color:#33383d;letter-spacing:-0.11px;">00:01:36</div>
<svg class="abs" style="left:591px;top:249px" width="13" height="3.400" viewBox="0 0 13 3.4" fill="#2b3036"><circle cx="1.700" cy="1.700" r="1.500"/><circle cx="6.400" cy="1.700" r="1.500"/><circle cx="11.100" cy="1.700" r="1.500"/></svg>
<div class="abs" style="left:0;top:266.45px;width:621px;height:1px;background:#eff1f2"></div>
<div class="t" style="left:11.05px;top:276.65px;font-size:13px;color:#33383d;letter-spacing:-0.26px;">Sofia Manzano</div>
<div class="abs" style="left:136.5px;top:274.5px;width:46px;height:17.5px;border-radius:9px;background:#ebedee"></div>
<div class="t" style="left:136.5px;top:277.84px;font-size:11px;color:#585d62;width:46px;text-align:center;">Orders</div>
<div class="abs" style="left:340.2px;top:278.45px;width:9.6px;height:9.6px;border-radius:50%;background:#6a3fe0"></div>
<div class="t" style="left:357.25px;top:276.65px;font-size:13px;color:#2b3036;letter-spacing:0.01px;">After call work</div>
<svg class="abs" style="left:443.6px;top:280.05px" width="9.600" height="7" viewBox="0 0 9.6 7" fill="none" stroke="#2b3036" stroke-width="1.500"><path d="M.7 1l4.100 4.100L8.900 1"/></svg>
<div class="t" style="left:471.45px;top:276.65px;font-size:13px;color:#33383d;letter-spacing:-0.11px;">00:02:43</div>
<svg class="abs" style="left:591px;top:281.55px" width="13" height="3.400" viewBox="0 0 13 3.4" fill="#2b3036"><circle cx="1.700" cy="1.700" r="1.500"/><circle cx="6.400" cy="1.700" r="1.500"/><circle cx="11.100" cy="1.700" r="1.500"/></svg>
<div class="abs" style="left:0;top:299px;width:621px;height:1px;background:#eff1f2"></div>
<div class="t" style="left:11.05px;top:309.2px;font-size:13px;color:#33383d;letter-spacing:-0.27px;">Tongbang Jun-Seo</div>
<div class="abs" style="left:136.5px;top:307.05px;width:40.4px;height:17.5px;border-radius:9px;background:#ebedee"></div>
<div class="t" style="left:136.5px;top:310.39px;font-size:11px;color:#585d62;width:40.4px;text-align:center;">Sales</div>
<div class="abs" style="left:181.6px;top:307.05px;width:52px;height:17.5px;border-radius:9px;background:#ebedee"></div>
<div class="t" style="left:181.6px;top:310.39px;font-size:11px;color:#585d62;width:52px;text-align:center;">Spanish</div>
<div class="abs" style="left:238.3px;top:307.05px;width:25.2px;height:17.5px;border-radius:9px;background:#f0f2f4"></div>
<div class="t" style="left:238.3px;top:310.39px;font-size:11px;color:#2a62d6;width:25.2px;text-align:center;-webkit-text-stroke:.15px #2a62d6;">+1</div>
<div class="abs" style="left:340.2px;top:311px;width:9.6px;height:9.6px;border-radius:50%;background:#d63c2c"></div>
<div class="t" style="left:357.25px;top:309.2px;font-size:13px;color:#2b3036;letter-spacing:-0.28px;">On a call</div>
<svg class="abs" style="left:410.6px;top:312.6px" width="9.600" height="7" viewBox="0 0 9.6 7" fill="none" stroke="#2b3036" stroke-width="1.500"><path d="M.7 1l4.100 4.100L8.900 1"/></svg>
<div class="t" style="left:471.45px;top:309.2px;font-size:13px;color:#33383d;letter-spacing:-0.11px;">00:15:20</div>
<svg class="abs" style="left:591px;top:314.1px" width="13" height="3.400" viewBox="0 0 13 3.4" fill="#2b3036"><circle cx="1.700" cy="1.700" r="1.500"/><circle cx="6.400" cy="1.700" r="1.500"/><circle cx="11.100" cy="1.700" r="1.500"/></svg>
<div class="abs" style="left:614.6px;top:42px;width:5px;height:46.500px;border-radius:2.500px;background:#d9dbdd"></div>
</div>
<!--TABLE-->
</body>
</html>
